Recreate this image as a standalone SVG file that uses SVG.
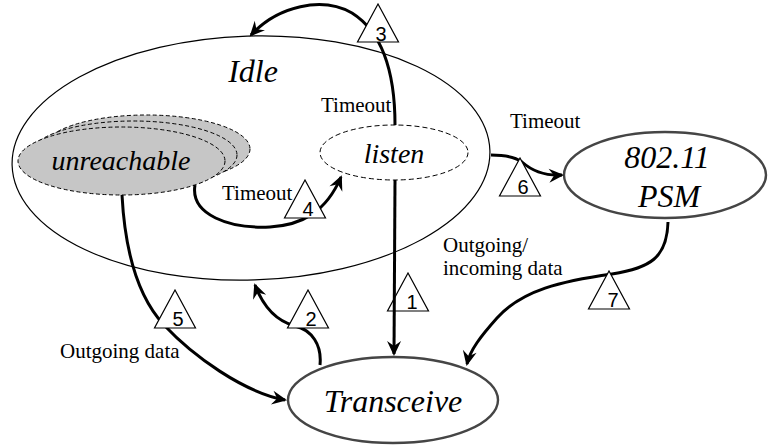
<svg xmlns="http://www.w3.org/2000/svg" width="769" height="446" viewBox="0 0 769 446">
<defs>
<style>
.bg{fill:#ffffff}
.state{font-family:"Liberation Serif","Times New Roman",serif;font-style:italic;fill:#000}
.lbl{font-family:"Liberation Serif","Times New Roman",serif;font-size:21px;fill:#000}
.num{font-family:"Liberation Sans",Arial,sans-serif;font-size:20px;fill:#000;text-anchor:middle}
.conn{fill:none;stroke:#000;stroke-width:3;marker-end:url(#ah)}
.tri{fill:#fff;stroke:#000;stroke-width:1.2}
.dash{fill:#c6c6c6;stroke:#000;stroke-width:1;stroke-dasharray:4 2.5}
.solidstate{fill:#fff;stroke:#454545;stroke-width:2.4}
</style>
<marker id="ah" markerUnits="userSpaceOnUse" viewBox="-16 -8 18 16" markerWidth="18" markerHeight="16" refX="-2" refY="0" orient="auto">
<path d="M0,0 L-15,-7 L-10,0 L-15,7 Z" fill="#000"/>
</marker>
<path id="tri" d="M0,0 L-20.5,38 L20.5,38 Z"/>
</defs>
<rect class="bg" x="0" y="0" width="769" height="446"/>

<g id="idle">
<ellipse cx="251" cy="158" rx="239" ry="122" transform="rotate(-1.8 251 158)" fill="none" stroke="#000" stroke-width="1.2"/>
<text class="state" x="253" y="82" font-size="32" text-anchor="middle">Idle</text>
</g>

<g id="unreachable">
<ellipse class="dash" cx="146.5" cy="149" rx="103.5" ry="34"/>
<ellipse class="dash" cx="133.5" cy="155" rx="103.5" ry="34"/>
<ellipse class="dash" cx="121.5" cy="161" rx="103.5" ry="34"/>
<text class="state" x="121" y="170" font-size="28" text-anchor="middle">unreachable</text>
</g>

<g id="listen">
<ellipse cx="394" cy="152.5" rx="74" ry="27.5" fill="none" stroke="#000" stroke-width="1" stroke-dasharray="5 3"/>
<text class="state" x="394" y="163" font-size="28" text-anchor="middle">listen</text>
</g>

<g id="psm">
<ellipse class="solidstate" cx="665" cy="175" rx="101" ry="43"/>
<text class="state" x="667" y="168" font-size="32" text-anchor="middle">802.11</text>
<text class="state" x="669" y="207" font-size="32" text-anchor="middle">PSM</text>
</g>

<g id="transceive">
<ellipse class="solidstate" cx="393" cy="400" rx="105" ry="43"/>
<text class="state" x="393" y="412" font-size="32" text-anchor="middle">Transceive</text>
</g>

<g id="label-1">
<use href="#tri" class="tri" x="408" y="273"/>
<text class="num" x="412" y="309">1</text>
</g>

<g id="connectors">
<path class="conn" d="M395,180 L394,354"/>
<path class="conn" d="M320,365 C322,345 312,330 295,326 C276,321 263,306 255,285"/>
<path class="conn" d="M395,125 C395,72 382,32 352,13 C322,-4 278,6 251,35"/>
<path class="conn" d="M195,185 C190,215 230,229 270,227 C302,225 326,212 341,177"/>
<path class="conn" d="M122,195 C125,252 138,297 164,325 C193,356 243,392 285,400"/>
<path class="conn" d="M491,155 C506,155 515,157 522,162 C531,170 545,176 562,175"/>
<path class="conn" d="M668,222 C667,258 650,268 612,274 C562,281 522,290 497,318 C481,336 470,350 467,364"/>
</g>

<g id="label-2"><use href="#tri" class="tri" x="308" y="290"/><text class="num" x="311" y="326">2</text></g>
<g id="label-3"><use href="#tri" class="tri" x="378" y="4"/><text class="num" x="381" y="41">3</text></g>
<g id="label-4"><use href="#tri" class="tri" x="305" y="180"/><text class="num" x="308" y="216">4</text></g>
<g id="label-5"><use href="#tri" class="tri" x="175" y="290"/><text class="num" x="178" y="326">5</text></g>
<g id="label-6"><use href="#tri" class="tri" x="520" y="158"/><text class="num" x="523" y="194">6</text></g>
<g id="label-7"><use href="#tri" class="tri" x="609" y="271"/><text class="num" x="613" y="307">7</text></g>

<g id="texts">
<text class="lbl" x="321" y="112">Timeout</text>
<text class="lbl" x="222" y="200">Timeout</text>
<text class="lbl" x="510" y="128">Timeout</text>
<text class="lbl" x="443" y="252">Outgoing/</text>
<text class="lbl" x="443" y="275">incoming data</text>
<text class="lbl" x="60" y="358">Outgoing data</text>
</g>
</svg>
